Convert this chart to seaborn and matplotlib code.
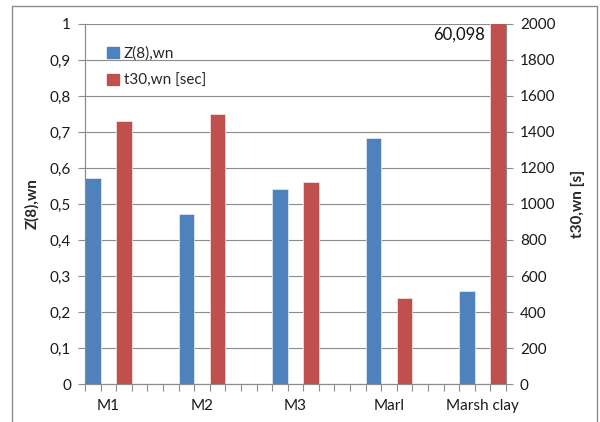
import numpy as np
import pandas as pd
import seaborn as sns
import matplotlib.pyplot as plt
from matplotlib.patches import Patch, Rectangle
from matplotlib.ticker import FuncFormatter, MultipleLocator

# data
soils = ['M1', 'M2', 'M3', 'Marl', 'Marsh clay']
z8_wn = [0.572, 0.472, 0.543, 0.683, 0.258]
t30_wn = [1460, 1500, 1120, 480, 60098]
t30_top_label = '60,098'

BLUE = '#4F81BD'
RED = '#C0504D'
GRID = '#8C8C8C'

sns.set_theme(style='white')
plt.rcParams['font.family'] = ['Lato', 'DejaVu Sans']

# each soil takes 6 slots: blue bar in slot 0, red bar in slot 2
slot = 6
grp = np.arange(len(soils)) * slot
df = pd.DataFrame({'soil': soils, 'z': z8_wn, 't': t30_wn,
                   'xz': grp + 0.5, 'xt': grp + 2.5, 'xlab': grp + 1.5})

fig = plt.figure(figsize=(6, 4.22), dpi=100)
ax = fig.add_axes([85 / 600, 1 - 384 / 422, 421 / 600, 360 / 422])
ax2 = ax.twinx()

sns.barplot(data=df, x='xz', y='z', native_scale=True, width=1 / slot,
            color=BLUE, saturation=1, errorbar=None, ax=ax,
            edgecolor='#DCE6F2', linewidth=0.6)
sns.barplot(data=df, x='xt', y='t', native_scale=True, width=1 / slot,
            color=RED, saturation=1, errorbar=None, ax=ax2,
            edgecolor='#F2DCDB', linewidth=0.6)

ax.set_xlim(0, 27)
ax.set_ylim(0, 1)
ax2.set_ylim(0, 2000)

fs = 11
ax.yaxis.set_major_locator(MultipleLocator(0.1))
ax.yaxis.set_major_formatter(FuncFormatter(lambda v, p: ('%g' % round(v, 1)).replace('.', ',')))
ax2.yaxis.set_major_locator(MultipleLocator(200))

ax.set_xticks(df['xlab'])
ax.set_xticklabels(soils)
ax.xaxis.set_minor_locator(MultipleLocator(1))
ax.tick_params(axis='x', which='major', length=0, pad=11, labelsize=fs, colors='#1a1a1a')
ax.tick_params(axis='x', which='minor', length=5, width=0.8, color=GRID, direction='out', bottom=True)
ax.tick_params(axis='y', length=5, width=0.8, color=GRID, direction='out', left=True,
               labelsize=fs, labelcolor='#1a1a1a', pad=5)
ax2.tick_params(axis='y', length=5, width=0.8, color=GRID, direction='out', right=True,
                labelsize=fs, labelcolor='#1a1a1a', pad=5)

ax.grid(axis='y', color=GRID, linewidth=0.8)
ax.grid(axis='x', visible=False)
ax2.grid(False)
ax.set_axisbelow(True)

for a in (ax, ax2):
    a.spines['top'].set_visible(False)
    for s in ('left', 'right', 'bottom'):
        a.spines[s].set_color(GRID)
        a.spines[s].set_linewidth(0.8)

ax.set_xlabel('')
ax.set_ylabel('Z(8),wn', fontsize=fs, fontweight='bold')
ax2.set_ylabel('t30,wn [s]', fontsize=fs, fontweight='bold')
ax.yaxis.set_label_coords(-0.108, 0.5)
ax2.yaxis.set_label_coords(1.155, 0.5)

# clipped bar value
ax2.annotate(t30_top_label, xy=(df['xt'].iloc[-1] - 0.5, 2000), xytext=(-4, -2),
             textcoords='offset points', ha='right', va='top', fontsize=12, color='#111111')

handles = [Patch(color=BLUE), Patch(color=RED)]
ax2.legend(handles, ['Z(8),wn', 't30,wn [sec]'], loc='upper left',
           bbox_to_anchor=(0.02, 0.975), frameon=False, fontsize=fs,
           handlelength=0.75, handleheight=0.75, handletextpad=0.35, labelspacing=0.85)

fig.patches.append(Rectangle((12 / 600, -0.02), 585 / 600, 1 - 6 / 422 + 0.02,
                             transform=fig.transFigure, fill=False,
                             edgecolor='#8C8C8C', linewidth=1))

fig.savefig('out.png', dpi=100)
